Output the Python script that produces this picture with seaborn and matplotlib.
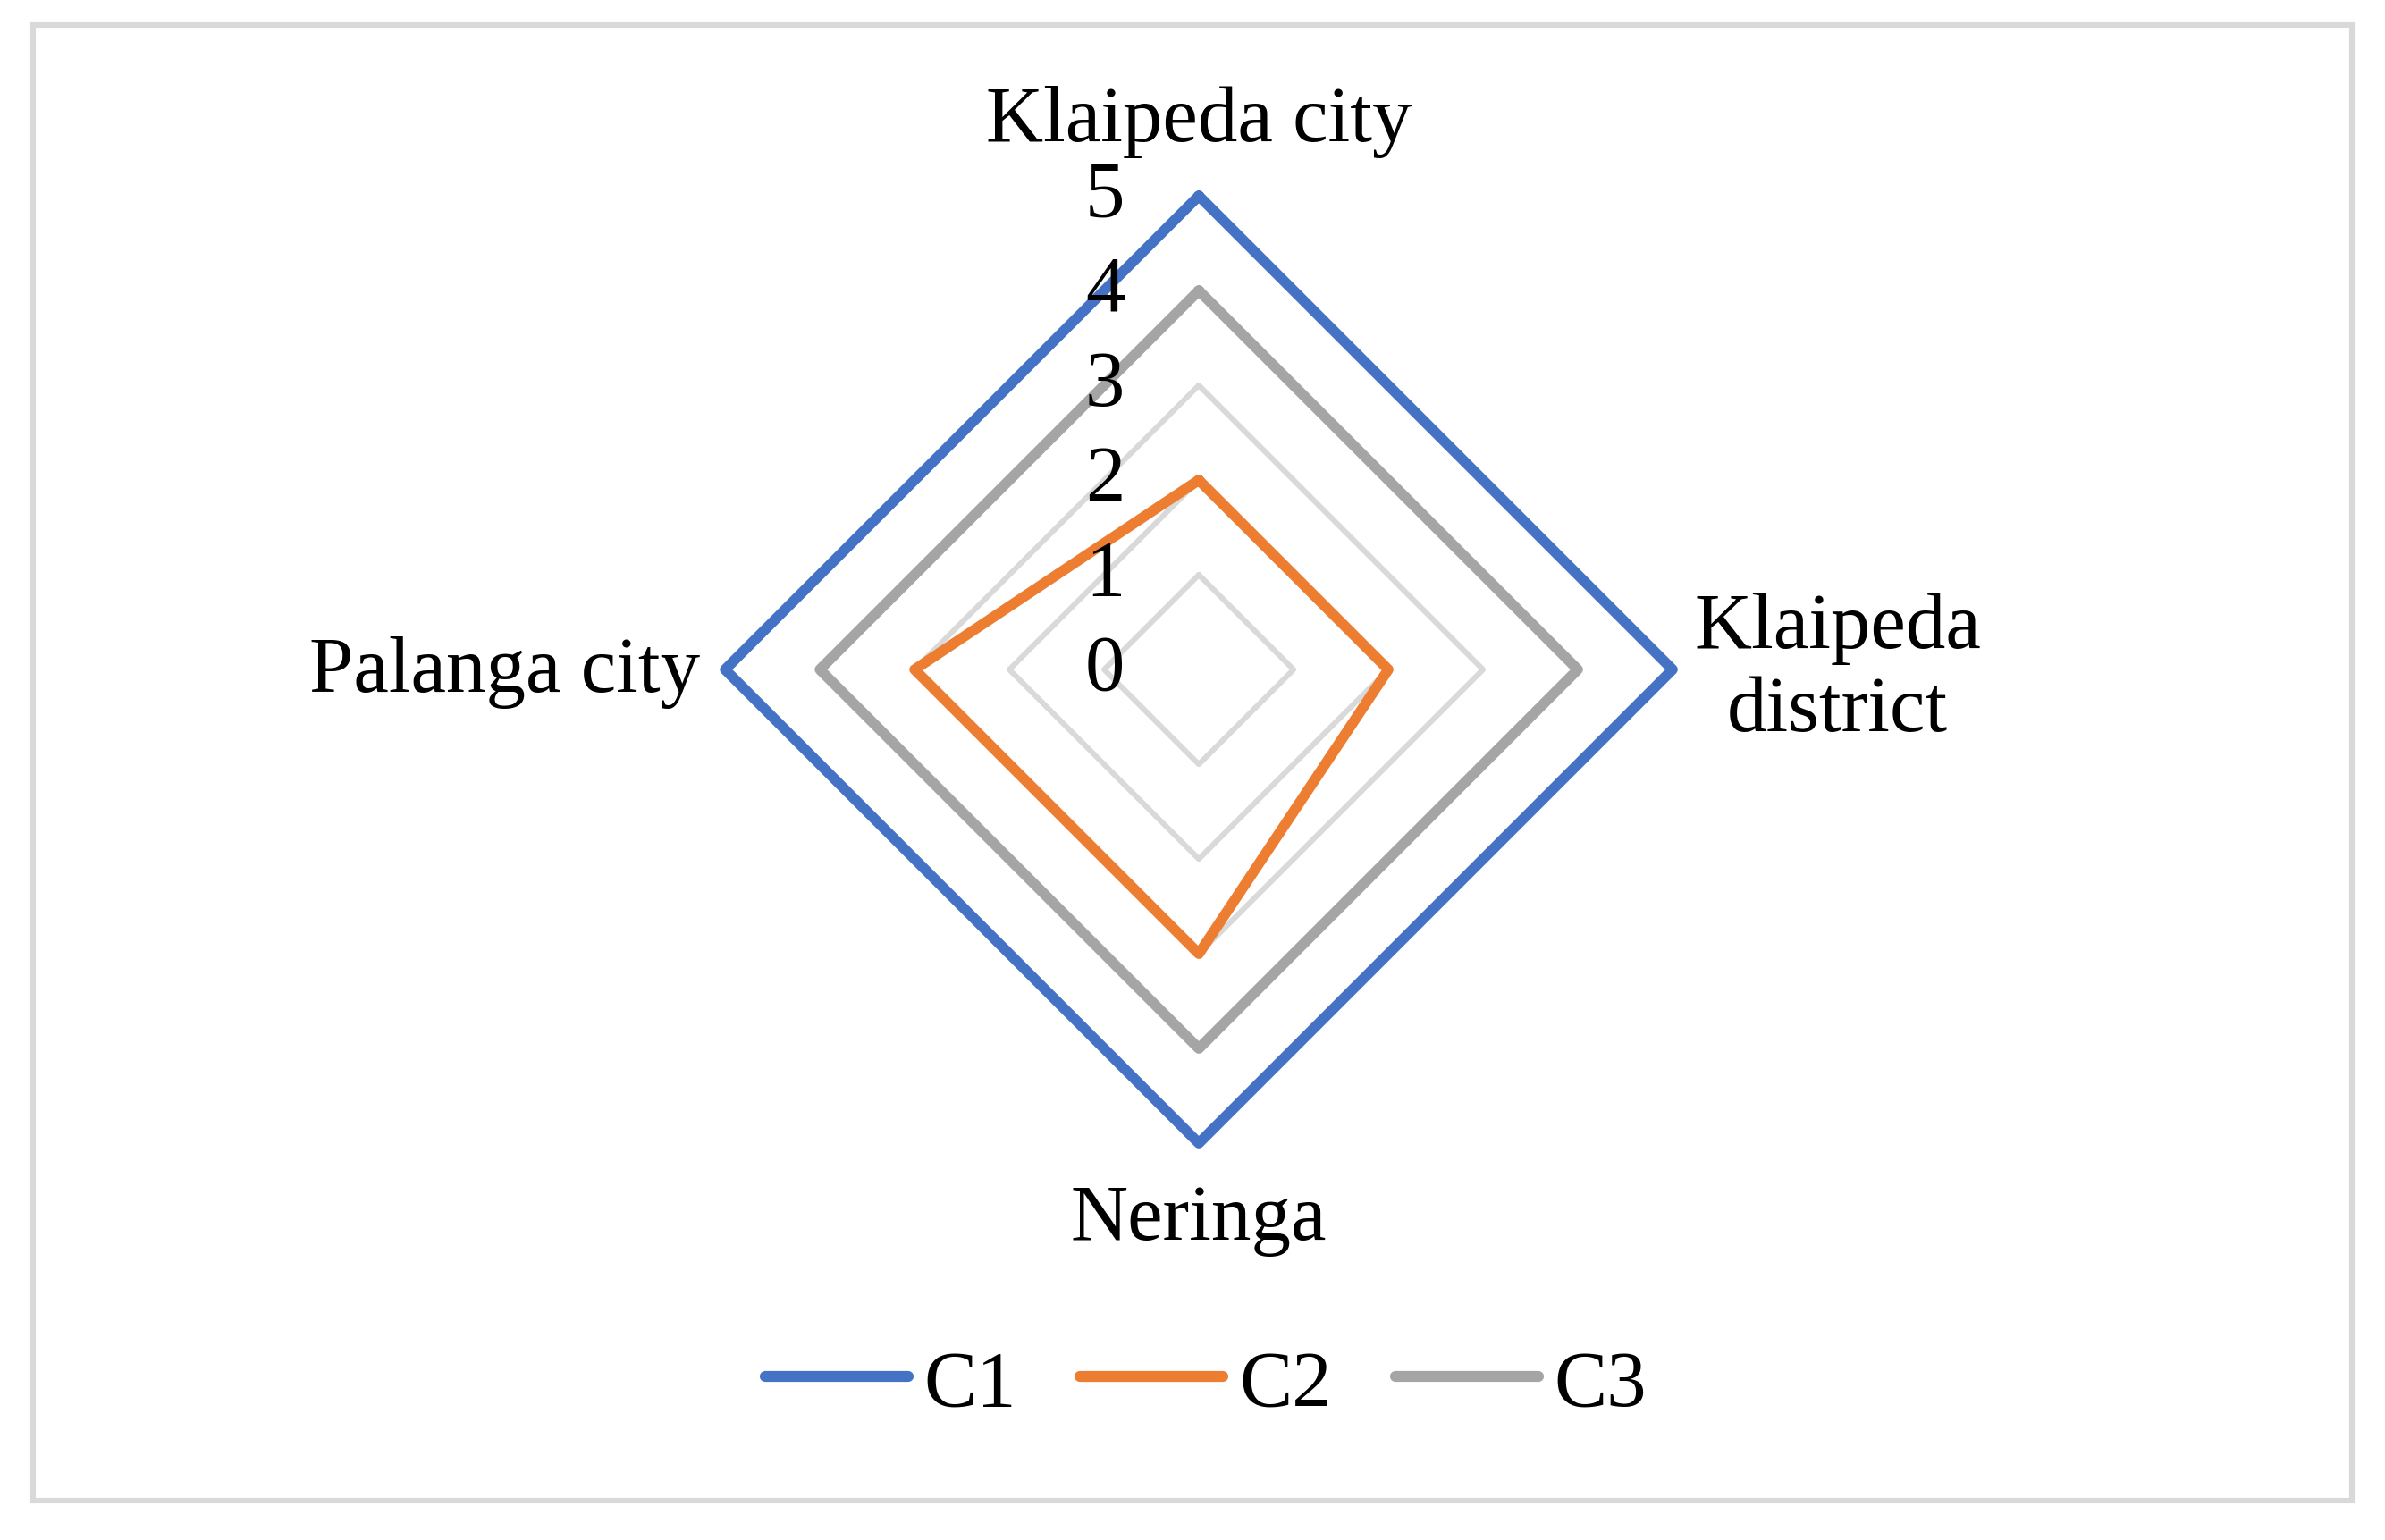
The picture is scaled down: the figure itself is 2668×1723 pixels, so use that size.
import numpy as np
import pandas as pd
import matplotlib
matplotlib.use("Agg")
import matplotlib.pyplot as plt
import matplotlib.transforms as mtransforms
from matplotlib.patches import Rectangle
import seaborn as sns

# data
regions = ["Klaipeda city", "Klaipeda\ndistrict", "Neringa", "Palanga city"]
c1 = [5, 5, 5, 5]
c2 = [2, 2, 3, 3]
c3 = [4, 4, 4, 4]
series_names = ["C1", "C2", "C3"]
colors = ["#4472C4", "#ED7D31", "#A5A5A5"]
r_ticks = [0, 1, 2, 3, 4, 5]

sns.set_theme(style="white")
plt.rcParams["font.family"] = ["Liberation Serif", "DejaVu Serif"]
plt.rcParams["text.color"] = "black"

# angles, closed polygon
n = len(regions)
theta = np.linspace(0, 2 * np.pi, n + 1)

rows = []
for name, vals in zip(series_names, [c1, c2, c3]):
    closed = list(vals) + [vals[0]]
    for t, v in zip(theta, closed):
        rows.append({"theta": t, "value": v, "series": name})
df = pd.DataFrame(rows)

fig = plt.figure(figsize=(13.34, 8.62), dpi=200)
ax = fig.add_axes([0.304, 0.2575, 0.3973, 0.6148], projection="polar")
ax.set_theta_offset(np.pi / 2)
ax.set_theta_direction(-1)
ax.set_ylim(0, 5)
ax.grid(False)
ax.spines["polar"].set_visible(False)
ax.set_xticks([])
ax.set_yticks([])
ax.patch.set_alpha(0)

# straight gridlines (diamonds)
for r in r_ticks[1:]:
    ax.plot(theta, [r] * (n + 1), color="#D9D9D9", lw=2.2, zorder=1, clip_on=False)

sns.lineplot(data=df, x="theta", y="value", hue="series", palette=colors,
             sort=False, estimator=None, lw=4.2, ax=ax, legend=False, zorder=3)
for ln in ax.lines:
    ln.set_clip_on(False)
ax.set_xlabel("")
ax.set_ylabel("")

# radial tick labels to the left of the top axis
offset = mtransforms.ScaledTranslation(-105 / 200, 0, fig.dpi_scale_trans)
for r in r_ticks:
    ax.text(0, r, str(r), transform=ax.transData + offset, ha="center", va="center",
            fontsize=32, color="black", zorder=5)

# category labels
ax.text(0.5, 1.059, regions[0], transform=ax.transAxes, ha="center", va="baseline", fontsize=32)
ax.text(1.174, 0.5, regions[1], transform=ax.transAxes, ha="center", va="center",
        multialignment="center", fontsize=32)
ax.text(0.5, -0.101, regions[2], transform=ax.transAxes, ha="center", va="baseline", fontsize=32)
ax.text(-0.026, 0.477, regions[3], transform=ax.transAxes, ha="right", va="baseline", fontsize=32)

# legend
handles = [plt.Line2D([], [], color=c, lw=4.4, solid_capstyle="round") for c in colors]
fig.legend(handles, series_names, loc="center", bbox_to_anchor=(0.5056, 0.1004), ncol=3,
           frameon=False, fontsize=32, handlelength=1.8, handletextpad=0.2,
           columnspacing=0.8, labelcolor="black")

# outer border
fig.patches.append(Rectangle((37 / 2668, 1 - 1680 / 1724), (2631 - 37) / 2668, (1680 - 29) / 1724,
                             transform=fig.transFigure, fill=False, edgecolor="#D9D9D9", lw=2.2))

fig.savefig("out.png", dpi=200, facecolor="white")
